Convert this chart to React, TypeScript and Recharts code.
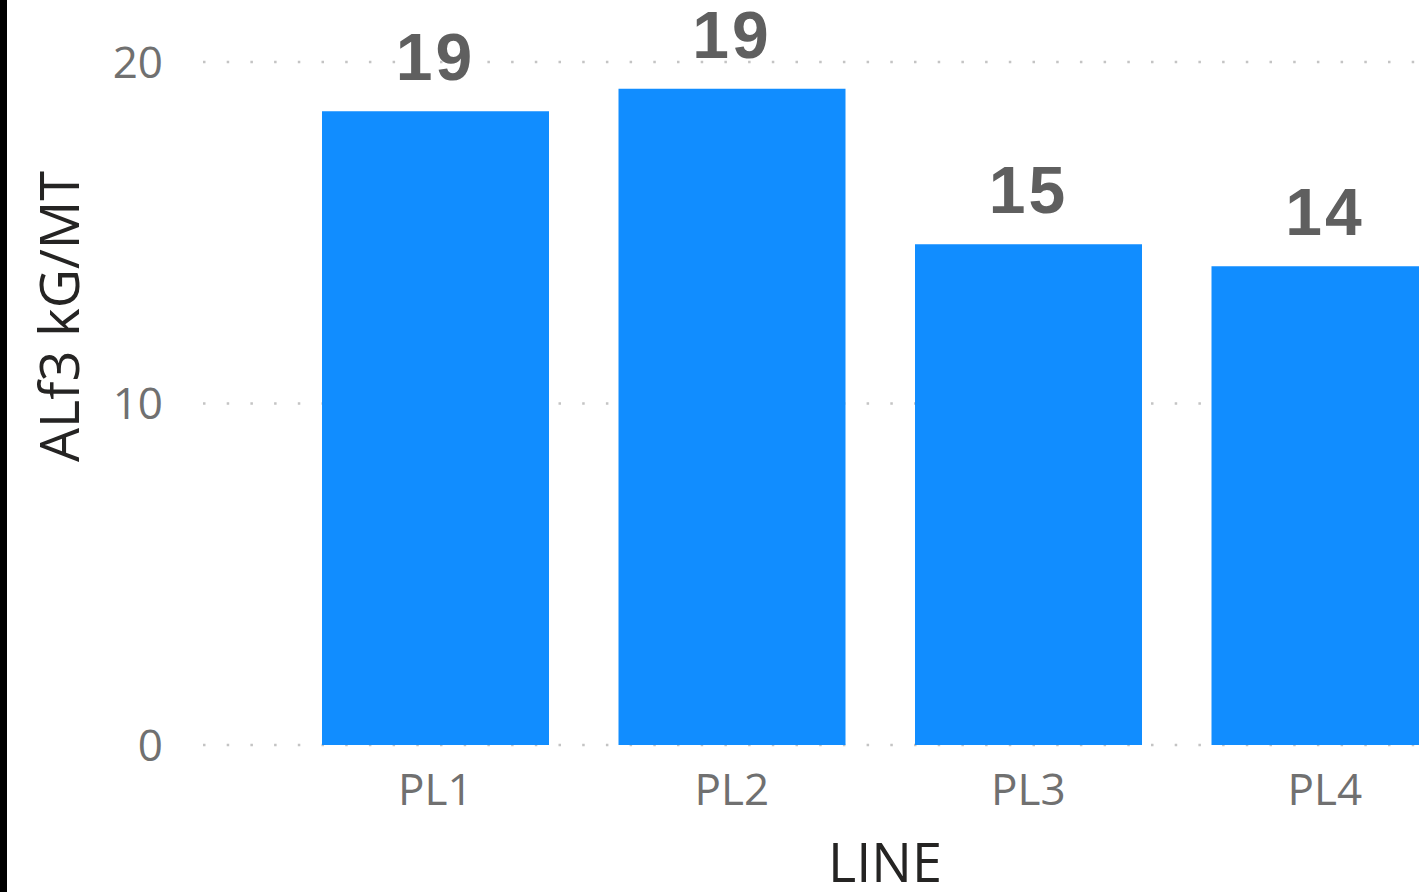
import React from 'react';
import { BarChart, Bar, XAxis, YAxis, CartesianGrid, LabelList } from 'recharts';

const categories = ['PL1', 'PL2', 'PL3', 'PL4'];
const values = [18.56, 19.22, 14.66, 14.02];
const yTicks = [0, 10, 20];

const data = categories.map((c, i) => ({ line: c, value: values[i] }));

const YTitle = (props: any) => {
  const vb = props.viewBox || {};
  const cx = 79;
  const cy = vb.y + vb.height / 2 - 87;
  return (
    <text
      x={cx}
      y={cy}
      transform={`rotate(-90, ${cx}, ${cy})`}
      textAnchor="middle"
      fill="#252423"
      fontFamily="'Open Sans', sans-serif"
      fontSize={54}
    >
      ALf3 kG/MT
    </text>
  );
};

const XTitle = (props: any) => {
  const vb = props.viewBox || {};
  return (
    <text
      x={vb.x + vb.width / 2}
      y={vb.y + 137}
      textAnchor="middle"
      fill="#252423"
      fontFamily="'Open Sans', sans-serif"
      fontSize={54}
    >
      LINE
    </text>
  );
};

export default function App() {
  return (
    <div
      style={{
        position: 'fixed',
        left: 0,
        top: 0,
        width: 1419,
        height: 892,
        overflow: 'hidden',
        background: '#ffffff',
      }}
    >
      <div style={{ position: 'absolute', left: 0, top: 0, width: 7, height: 892, background: '#000' }} />
      <div style={{ position: 'absolute', left: 0, top: 0 }}>
        <BarChart
          width={1567}
          height={892}
          data={data}
          margin={{ top: 62, right: 0, bottom: 0, left: 0 }}
          barSize={227}
        >
          <CartesianGrid
            vertical={false}
            stroke="#c4c4c4"
            strokeWidth={2.5}
            strokeDasharray="2.5 21.2"
          />
          <XAxis
            dataKey="line"
            height={147}
            axisLine={false}
            tickLine={false}
            tickSize={0}
            tickMargin={29}
            padding={{ left: 84, right: 94 }}
            interval={0}
            tick={{ fill: '#707070', fontSize: 44, fontFamily: "'Open Sans', sans-serif" }}
            label={<XTitle />}
          />
          <YAxis
            width={203}
            domain={[0, 20]}
            ticks={yTicks}
            axisLine={false}
            tickLine={false}
            tickSize={0}
            tickMargin={40}
            tick={{ fill: '#707070', fontSize: 44, fontFamily: "'Open Sans', sans-serif" }}
            label={<YTitle />}
          />
          <Bar dataKey="value" fill="#118DFF" isAnimationActive={false}>
            <LabelList
              dataKey="value"
              position="top"
              offset={31}
              formatter={(v: any) => Math.round(Number(v))}
              fill="#5f5f5f"
              fontSize={66}
              fontWeight="bold"
              letterSpacing={3}
              fontFamily="'Liberation Sans', Arial, sans-serif"
            />
          </Bar>
        </BarChart>
      </div>
    </div>
  );
}
